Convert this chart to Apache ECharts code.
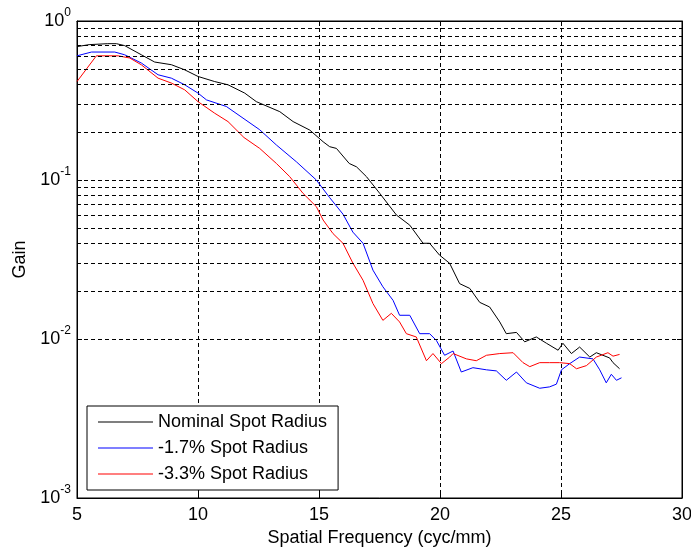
<!DOCTYPE html>
<html>
<head>
<meta charset="utf-8">
<script src="https://cdn.jsdelivr.net/npm/echarts@6/dist/echarts.min.js"></script>
<style>
html,body{margin:0;padding:0;background:#fff;}
#chart{width:691px;height:548px;}
</style>
</head>
<body>
<div id="chart"></div>
<script>
// Series names
const seriesNames = ['Nominal Spot Radius', '-1.7% Spot Radius', '-3.3% Spot Radius'];

// Nominal (black)
const freqNominal = [5.0,5.5,6.27,6.63,6.97,7.66,8.21,8.9,9.45,10.0,10.69,11.24,11.93,12.41,13.38,13.93,14.62,15.17,15.44,15.72,16.25,16.55,16.96,17.51,18.2,18.75,19.3,19.57,19.98,20.4,20.81,21.23,21.64,22.05,22.47,22.74,23.16,23.5,23.98,24.4,24.88,25.08,25.43,25.77,26.19,26.46,27.01,27.15,27.42];
const gainNominal = [0.69,0.71,0.72,0.72,0.70,0.613,0.552,0.531,0.493,0.448,0.416,0.397,0.352,0.311,0.269,0.233,0.206,0.174,0.162,0.158,0.127,0.121,0.105,0.0824,0.0602,0.052,0.040,0.040,0.0337,0.0299,0.0223,0.0208,0.0170,0.0159,0.0128,0.0108,0.0110,0.0096,0.0103,0.0094,0.0085,0.0094,0.0081,0.0089,0.0077,0.0082,0.0076,0.0071,0.0065];

// -1.7% (blue)
const freqMinus17 = [5.0,5.6,6.56,6.97,7.66,8.35,8.9,9.45,10.0,10.35,11.17,11.86,12.55,13.24,14.07,14.89,15.44,15.99,16.4,16.82,17.23,17.64,18.06,18.33,18.75,19.16,19.57,19.85,20.19,20.54,20.88,21.36,21.92,22.33,22.74,23.16,23.57,24.12,24.53,24.81,25.02,25.36,25.77,26.32,26.6,26.87,27.08,27.29,27.5];
const gainMinus17 = [0.604,0.638,0.638,0.613,0.544,0.459,0.437,0.397,0.352,0.319,0.29,0.245,0.207,0.166,0.130,0.100,0.0775,0.061,0.047,0.040,0.0271,0.0213,0.0175,0.0141,0.0141,0.0108,0.0108,0.0098,0.0079,0.0084,0.0062,0.0066,0.0064,0.0063,0.0055,0.0062,0.0053,0.0049,0.0050,0.0052,0.0064,0.0070,0.0077,0.0075,0.0064,0.0053,0.0060,0.0055,0.0057];

// -3.3% (red)
const freqMinus33 = [5.0,5.8,6.7,7.18,7.66,8.35,8.9,9.45,10.0,10.69,11.24,11.9,12.55,13.24,13.79,14.34,14.89,15.17,15.58,15.99,16.4,16.82,17.23,17.64,17.99,18.33,18.61,19.02,19.44,19.71,20.06,20.4,20.54,21.09,21.5,21.92,22.47,23.02,23.43,23.71,24.12,24.53,24.94,25.36,25.64,26.05,26.46,26.94,27.15,27.42];
const gainMinus33 = [0.416,0.604,0.604,0.585,0.53,0.437,0.407,0.369,0.311,0.263,0.233,0.185,0.158,0.127,0.105,0.0824,0.068,0.056,0.046,0.040,0.030,0.0234,0.0167,0.0131,0.0145,0.0128,0.0108,0.0103,0.0073,0.0081,0.0070,0.0077,0.0081,0.0075,0.0073,0.0079,0.0081,0.0082,0.0071,0.0067,0.0071,0.0071,0.0071,0.0070,0.0065,0.0068,0.0077,0.0082,0.0078,0.0080];

// Minor log grid lines
const minorGridValues = [0.002,0.003,0.004,0.005,0.006,0.007,0.008,0.009,0.02,0.03,0.04,0.05,0.06,0.07,0.08,0.09,0.2,0.3,0.4,0.5,0.6,0.7,0.8,0.9];

const colors = ['#000000', '#0000ff', '#ff0000'];
const FONT = 'Liberation Sans, Arial, sans-serif';

function pairs(xs, ys){ return xs.map((x,i)=>[x, ys[i]]); }

const dash = {color:'#000', type:[4,3], width:1};

const chart = echarts.init(document.getElementById('chart'), null, {renderer:'canvas'});
chart.setOption({
  animation:false,
  backgroundColor:'#ffffff',
  grid:{left:77, right:9, top:21, bottom:50, containLabel:false, outerBoundsMode:'none',
        show:true, borderColor:'#000', borderWidth:1, backgroundColor:'#fff'},
  xAxis:[{
    type:'value', min:5, max:30, interval:5, position:'bottom',
    name:'Spatial Frequency (cyc/mm)', nameLocation:'middle', nameGap:31,
    nameTextStyle:{fontFamily:FONT, fontSize:18, color:'#000'},
    axisLine:{show:true, lineStyle:{color:'#000', width:1}},
    axisTick:{show:true, inside:true, length:5, lineStyle:{color:'#000'}},
    axisLabel:{fontFamily:FONT, fontSize:18, color:'#000', margin:8},
    splitLine:{show:true, lineStyle:dash}
  },{
    type:'value', min:5, max:30, interval:5, position:'top',
    axisLine:{show:true, lineStyle:{color:'#000'}},
    axisTick:{show:true, inside:true, length:5, lineStyle:{color:'#000'}},
    axisLabel:{show:false}, splitLine:{show:false}
  }],
  yAxis:[{
    type:'log', logBase:10, min:0.001, max:1, position:'left',
    name:'Gain', nameLocation:'middle', nameGap:48, nameRotate:90,
    nameTextStyle:{fontFamily:FONT, fontSize:18, color:'#000'},
    axisLine:{show:true, lineStyle:{color:'#000', width:1}},
    axisTick:{show:true, inside:true, length:5, lineStyle:{color:'#000'}},
    axisLabel:{
      margin:6,
      formatter:function(v){ const e = Math.round(Math.log10(v)); return '{b|10}{s|' + e + '}'; },
      rich:{
        b:{fontFamily:FONT, fontSize:18, color:'#000', lineHeight:28},
        s:{fontFamily:FONT, fontSize:12, color:'#000', verticalAlign:'top', lineHeight:12}
      }
    },
    splitLine:{show:true, lineStyle:dash}
  },{
    type:'log', logBase:10, min:0.001, max:1, position:'right',
    axisLine:{show:true, lineStyle:{color:'#000'}},
    axisTick:{show:true, inside:true, length:5, lineStyle:{color:'#000'}},
    axisLabel:{show:false}, splitLine:{show:false}
  }],
  legend:{
    orient:'vertical', left:87, top:406,
    data:seriesNames.map(n=>({name:n, icon:'rect'})),
    itemWidth:55, itemHeight:1.2, itemGap:8,
    padding:[7,11,7,11],
    backgroundColor:'#fff', borderColor:'#000', borderWidth:1,
    textStyle:{fontFamily:FONT, fontSize:18, color:'#000', lineHeight:18}
  },
  series:[
    {
      name:'minor-grid', type:'line', data:[], z:1, silent:true,
      markLine:{
        silent:true, symbol:['none','none'], label:{show:false},
        lineStyle:dash, animation:false,
        data:minorGridValues.map(v=>({yAxis:v}))
      }
    },
    {name:seriesNames[0], type:'line', data:pairs(freqNominal, gainNominal), symbol:'none', z:3,
      lineStyle:{color:colors[0], width:1}, itemStyle:{color:colors[0]}},
    {name:seriesNames[1], type:'line', data:pairs(freqMinus17, gainMinus17), symbol:'none', z:3,
      lineStyle:{color:colors[1], width:1}, itemStyle:{color:colors[1]}},
    {name:seriesNames[2], type:'line', data:pairs(freqMinus33, gainMinus33), symbol:'none', z:3,
      lineStyle:{color:colors[2], width:1}, itemStyle:{color:colors[2]}}
  ]
});
</script>
</body>
</html>
